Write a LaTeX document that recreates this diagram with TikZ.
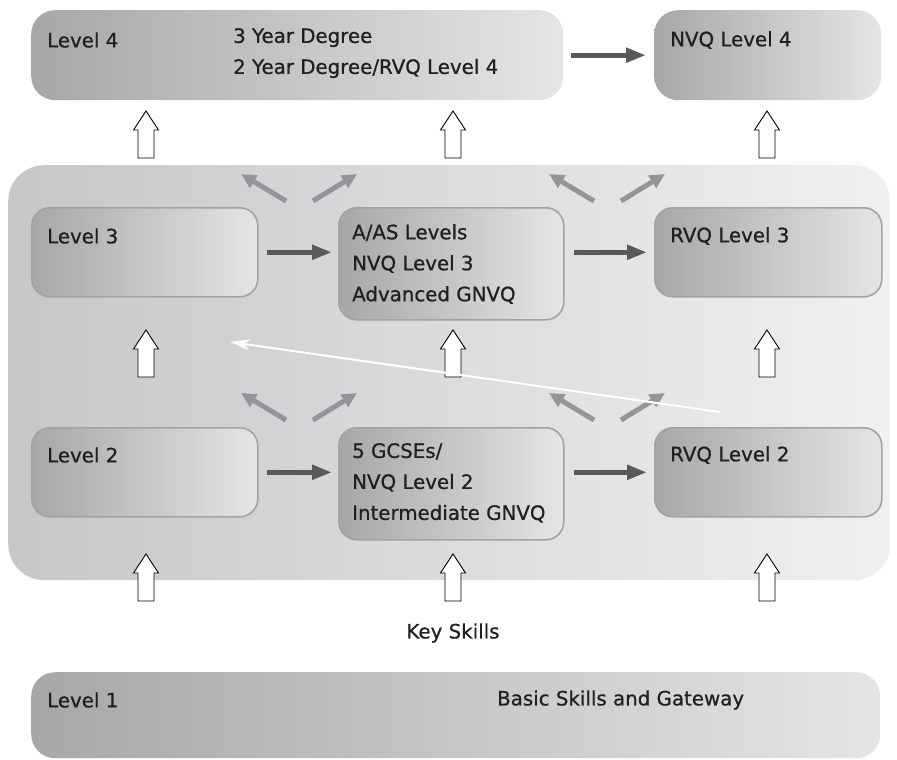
\documentclass[tikz,border=0pt]{standalone}
\usepackage{fontspec}
\setmainfont{DejaVu Sans}
\newfontfamily\lblfont{DejaVu Sans}[RawFeature={embolden=0.8}]
\usetikzlibrary{arrows.meta}
\definecolor{darkarr}{HTML}{58595B}
\definecolor{grayarr}{HTML}{939598}
\definecolor{boxdark}{HTML}{A6A7A9}
\definecolor{boxlight}{HTML}{E4E5E6}
\definecolor{bgdark}{HTML}{C6C7C9}
\definecolor{bglight}{HTML}{F0F0F0}
\definecolor{boxline}{HTML}{A2A3A5}
\definecolor{txt}{HTML}{231F20}
\tikzset{
  bigbox/.style={rectangle, rounded corners=24pt, left color=boxdark, right color=boxlight, draw=none, anchor=north west, inner sep=0pt},
  innerbox/.style={rectangle, rounded corners=18pt, left color=boxdark, right color=boxlight, draw=boxline, line width=1.6pt, anchor=north west, inner sep=0pt},
  lbl/.style={anchor=west, text=txt, font=\lblfont\fontsize{19.8}{31}\selectfont, align=left, inner sep=0pt},
  darkarrow/.style={draw=darkarr, line width=5pt, -{Triangle[length=20pt,width=14pt]}},
  grayarrow/.style={draw=grayarr, line width=5pt, -{Triangle[length=15pt,width=14pt]}},
  whitearrow/.style={draw=white, line width=2pt, -{Stealth[length=20pt,width=11pt,inset=6pt]}},
  pics/uparr/.style={code={
    \draw[black, line width=0.9pt, fill=white] (0,0) -- (12.5,19) -- (8,19) -- (8,47) -- (-8,47) -- (-8,19) -- (-12.5,19) -- cycle;
  }}
}
\begin{document}
\begin{tikzpicture}[x=1pt,y=-1pt]
\useasboundingbox (0,0) rectangle (897,760);
% background
\node[rectangle, rounded corners=36pt, left color=bgdark, right color=bglight, anchor=north west, inner sep=0pt, minimum width=882pt, minimum height=415pt] (bg) at (8,165) {};
% top boxes
\node[bigbox, minimum width=532pt, minimum height=90pt] (l4) at (31,10) {};
\node[bigbox, minimum width=227pt, minimum height=90pt] (nvq4) at (654,10) {};
% level 3 row
\node[innerbox, minimum width=226pt, minimum height=89pt] (l3) at (31,207) {};
\node[innerbox, minimum width=225pt, minimum height=112pt] (aas) at (338,207) {};
\node[innerbox, minimum width=227pt, minimum height=89pt] (rvq3) at (654,207) {};
% level 2 row
\node[innerbox, minimum width=226pt, minimum height=89pt] (l2) at (31,427) {};
\node[innerbox, minimum width=225pt, minimum height=112pt] (gcse) at (338,427) {};
\node[innerbox, minimum width=227pt, minimum height=89pt] (rvq2) at (654,427) {};
% level 1
\node[bigbox, minimum width=849pt, minimum height=86pt] (l1) at (31,672) {};
% labels
\node[lbl] (t4) at (47,40) {Level 4};
\node[lbl, anchor=north west] (t4b) at (233,28) {3 Year Degree\\2 Year Degree/RVQ Level 4};
\node[lbl] (tn4) at (670,40) {NVQ Level 4};
\node[lbl] (t3) at (47,236) {Level 3};
\node[lbl, anchor=north west] (taas) at (352,224) {A/AS Levels\\NVQ Level 3\\Advanced GNVQ};
\node[lbl] (tr3) at (670,236) {RVQ Level 3};
\node[lbl] (t2) at (47,455) {Level 2};
\node[lbl, anchor=north west] (tg) at (352,443) {5 GCSEs/\\NVQ Level 2\\Intermediate GNVQ};
\node[lbl] (tr2) at (670,455) {RVQ Level 2};
\node[lbl, anchor=center] (key) at (453,633) {Key Skills};
\node[lbl] (t1) at (47,700) {Level 1};
\node[lbl] (tb) at (497,700) {Basic Skills and Gateway};
% dark horizontal arrows
\draw[darkarrow, shorten <=8pt, shorten >=8pt] (l4.east) -- (l4.east -| nvq4.west);
\draw[darkarrow, shorten <=8pt, shorten >=6pt] (l3.east) -- (l3.east -| aas.west);
\draw[darkarrow, shorten <=9pt, shorten >=7pt] (aas.east |- l3.east) -- (l3.east -| rvq3.west);
\draw[darkarrow, shorten <=8pt, shorten >=6pt] (l2.east) -- (l2.east -| gcse.west);
\draw[darkarrow, shorten <=9pt, shorten >=7pt] (gcse.east |- l2.east) -- (l2.east -| rvq2.west);
% white block arrows
\foreach \x in {146,453,767} {
  \pic at (\x,111) {uparr};
  \pic at (\x,330) {uparr};
  \pic at (\x,554) {uparr};
}
% gray diagonal arrows
\foreach \dx/\y in {0/201, 308/201, 0/420, 308/420} {
  \coordinate (ga\dx\y) at (286+\dx,\y);
  \coordinate (gb\dx\y) at (313+\dx,\y);
  \draw[grayarrow] (ga\dx\y) -- ++(-45,-27);
  \draw[grayarrow] (gb\dx\y) -- ++(44,-27);
}
% white line arrow
\coordinate (ws) at (720,412);
\coordinate (we) at (230,342);
\draw[whitearrow] (ws) -- (we);
\end{tikzpicture}
\end{document}
